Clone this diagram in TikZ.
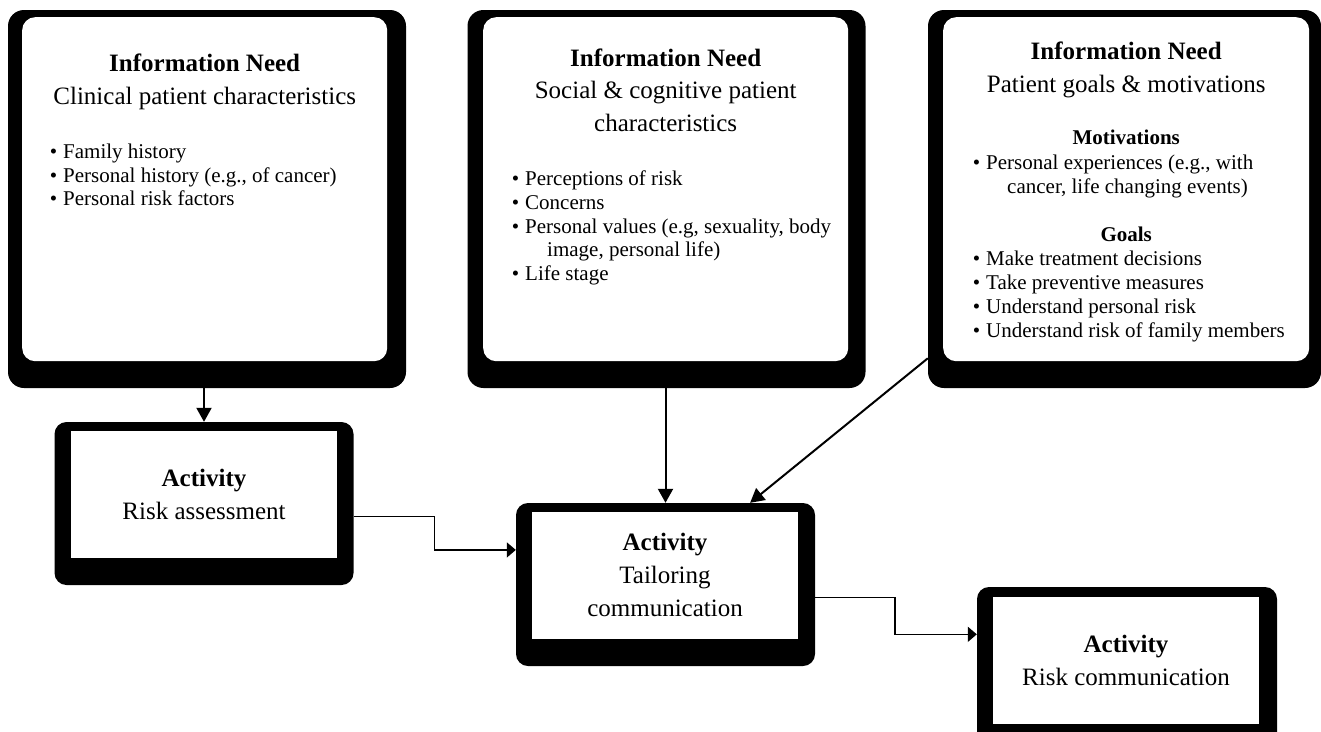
\documentclass[tikz,border=0pt]{standalone}
\usepackage{fontspec}
\setmainfont{Liberation Serif}
\usetikzlibrary{arrows.meta}
\newcommand{\needitem}{\leavevmode\llap{\textbullet\hspace{6pt}}}

\begin{document}
\begin{tikzpicture}[x=1pt,y=-1pt,
    needframe/.style={fill=black,rounded corners=16pt,minimum width=398pt,minimum height=378pt,inner sep=0pt},
    needbox/.style={fill=white,rounded corners=13pt,inner sep=0pt,anchor=north west},
    actframe/.style={fill=black,rounded corners=12pt,minimum width=299pt,minimum height=163pt,inner sep=0pt},
    actbox/.style={fill=white,minimum width=266pt,minimum height=127pt,inner sep=0pt,align=center,font=\fontsize{25}{33}\selectfont},
    arr/.style={-{Triangle[length=14pt,width=15pt]},line width=2pt},
    elbow/.style={-{Triangle[length=9pt,width=15pt]},line width=1.5pt}]
    \useasboundingbox (0,0) rectangle (1321,731);

    \node (NeedC) at (207,199) [needframe]{};
    \node (NeedCin) at (22,17) [needbox]{\parbox[c][344pt][t]{365pt}{\centering
        \fontsize{25}{32.5}\selectfont\rule{0pt}{54.5pt}\textbf{Information Need}\\
        Clinical patient characteristics\par
        \vspace{30.5pt}
        \raggedright\leftskip=41pt\fontsize{21}{23.7}\selectfont
        \needitem Family history\\
        \needitem\mbox{Personal history (e.g., of cancer)}\\
        \needitem Personal risk factors\par}};

    \node (NeedS) at (666.5,199) [needframe]{};
    \node (NeedSin) at (483,17) [needbox]{\parbox[c][344pt][t]{365pt}{\centering
        \fontsize{25}{32.5}\selectfont\rule{0pt}{49pt}\textbf{Information Need}\\
        Social \& cognitive patient\\
        characteristics\par
        \vspace{30.5pt}
        \raggedright\leftskip=42pt\fontsize{21}{23.8}\selectfont
        \needitem Perceptions of risk\\
        \needitem Concerns\\
        \needitem\mbox{Personal values (e.g, sexuality, body}\\
        \hspace*{22pt}image, personal life)\\
        \needitem Life stage\par}};

    \node (NeedG) at (1124.5,199) [needframe,minimum width=393pt]{};
    \node (NeedGin) at (943,17) [needbox]{\parbox[c][344pt][t]{366pt}{\centering
        \fontsize{25}{32.5}\selectfont\rule{0pt}{42.5pt}\textbf{Information Need}\\
        Patient goals \& motivations\par
        \vspace{29pt}
        {\fontsize{21}{23.7}\selectfont\bfseries Motivations\par}
        {\raggedright\leftskip=43pt\fontsize{21}{24.5}\selectfont
        \needitem\mbox{Personal experiences (e.g., with}\\
        \hspace*{21pt}\mbox{cancer, life changing events)}\par}
        \vspace{24pt}
        {\fontsize{21}{24}\selectfont\bfseries Goals\par}
        {\raggedright\leftskip=43pt\fontsize{21}{23.9}\selectfont
        \needitem Make treatment decisions\\
        \needitem Take preventive measures\\
        \needitem Understand personal risk\\
        \needitem\mbox{Understand risk of family members}\par}}};

    \node (RA) at (204,503.5) [actframe]{};
    \node (RAin) at (204,494.5) [actbox]{\textbf{Activity}\\Risk assessment};

    \node (TC) at (665.5,584.5) [actframe]{};
    \node (TCin) at (665,575) [actbox]{\textbf{Activity}\\Tailoring\\communication};

    \node (RC) at (1127,669) [actframe,minimum width=300pt,minimum height=164pt]{};
    \node (RCin) at (1126,660.5) [actbox]{\textbf{Activity}\\Risk communication};

    \draw [arr] (RA.north |- NeedC.south) to (RA.north);
    \draw [arr] (TC.north |- NeedS.south) to (TC.north);
    \draw [arr] (NeedG.219) to (TC.44);
    \draw [elbow] (RA.-5.6) -- ++(81,0) |- (TC.167.7);
    \draw [elbow] (TC.-5.9) -- ++(80,0) |- (RC.167.2);
\end{tikzpicture}
\end{document}
